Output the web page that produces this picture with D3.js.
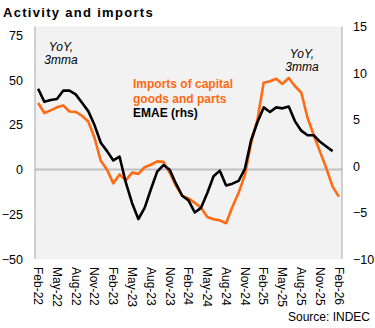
<!DOCTYPE html>
<meta charset="utf-8">
<script src="https://d3js.org/d3.v7.min.js"></script>
<style>
  body { margin: 0; background: #fff; }
  svg { display: block; font-family: "Liberation Sans", Arial, sans-serif; }
</style>
<div id="chart"></div>
<script>
// months Feb-22 .. Feb-26
var months = [];
var monNames = ["Jan","Feb","Mar","Apr","May","Jun","Jul","Aug","Sep","Oct","Nov","Dec"];
for (var k = 0; k < 49; k++) {
  var m = (1 + k) % 12, yr = 22 + Math.floor((1 + k) / 12);
  months.push(monNames[m] + "-" + yr);
}
var tickLabels = months.filter(function(d, i){ return i % 3 == 0 });

// imports of capital goods and parts, YoY 3mma (lhs)
var imports = [37.2, 31.6, 33.1, 34.8, 35.9, 32.5, 32.2, 30.1, 26.9, 17.8,
  4.9, -0.1, -7.7, -2.7, -6, -1.7, -2.4, 1.3, 2.7, 4.6,
  4.3, -1.8, -9.1, -14.7, -16.1, -18.6, -21.4, -26.5, -27.8, -28.4,
  -30, -20.9, -13, -3, 15, 27.9, 48.6, 49.4, 50.8, 47.9,
  51.2, 46.6, 43, 29, 19.2, 9.9, 0.7, -9.5, -15.1];

// EMAE, YoY 3mma (rhs)
var emae = [8.3, 6.9, 7.1, 7.2, 8.1, 8.1, 7.7, 6.8, 5.9, 4.4,
  2.5, 1.6, 0.6, 1.0, -1.8, -4, -5.7, -4.5, -2.5, -0.6,
  0.1, -0.4, -1.9, -3.2, -3.7, -5, -4.5, -2.9, -1.1, -0.5,
  -2.1, -1.9, -1.6, -0.3, 2.8, 4.7, 6.3, 5.8, 6.3, 6.2,
  6.4, 4.8, 3.8, 3.3, 3.3, 2.6, 2.1, 1.6, null];

var leftTicks = [-50, -25, 0, 25, 50, 75];
var rightTicks = [-10, -5, 0, 5, 10, 15];

var W = 375, H = 328;
var plot = {left: 35, right: 342, top: 26.5, bottom: 259};

var svg = d3.select("#chart").append("svg")
  .attr("width", W).attr("height", H);

var x = d3.scaleBand().domain(months).range([plot.left, plot.right]).padding(0);
var yL = d3.scaleLinear().domain([-50, 80]).range([plot.bottom, plot.top]);
var yR = d3.scaleLinear().domain([-10, 15]).range([plot.bottom, plot.top]);
var cx = function(d){ return x(d) + x.bandwidth() / 2 };

// title
svg.append("text")
  .attr("x", 3).attr("y", 17)
  .text("Activity and imports")
  .attr("font-size", "13px").attr("font-weight", "bold")
  .attr("letter-spacing", "1.3px")
  .attr("fill", "#000");

// plot background
svg.append("rect")
  .attr("x", plot.left).attr("y", plot.top)
  .attr("width", plot.right - plot.left).attr("height", plot.bottom - plot.top)
  .attr("fill", "#F2F2F2");

// zero line (lhs)
svg.append("line")
  .attr("x1", plot.left).attr("x2", plot.right)
  .attr("y1", yL(0)).attr("y2", yL(0))
  .attr("stroke", "#C0C0C0").attr("stroke-width", 2);

// axis lines
svg.append("line")
  .attr("x1", plot.left).attr("x2", plot.left)
  .attr("y1", plot.top).attr("y2", plot.bottom)
  .attr("stroke", "#A6A6A6").attr("stroke-width", 1);
svg.append("line")
  .attr("x1", plot.right).attr("x2", plot.right)
  .attr("y1", plot.top).attr("y2", plot.bottom)
  .attr("stroke", "#A6A6A6").attr("stroke-width", 1);

// left axis
var gl = svg.append("g")
  .attr("transform", "translate(" + plot.left + ",0)")
  .call(d3.axisLeft(yL).tickValues(leftTicks).tickSize(0).tickPadding(12));
gl.select(".domain").remove();
gl.selectAll("text").attr("font-size", "12.5px").attr("font-family", null).attr("fill", "#000");

// right axis
var gr = svg.append("g")
  .attr("transform", "translate(" + plot.right + ",0)")
  .call(d3.axisRight(yR).tickValues(rightTicks).tickSize(0).tickPadding(11));
gr.select(".domain").remove();
gr.selectAll("text").attr("font-size", "12.5px").attr("font-family", null).attr("fill", "#000");

// bottom axis, rotated labels
var gb = svg.append("g")
  .attr("transform", "translate(0," + plot.bottom + ")")
  .call(d3.axisBottom(x).tickValues(tickLabels).tickSize(0).tickPadding(0));
gb.select(".domain").remove();
gb.selectAll("text")
  .attr("font-size", "12px").attr("font-family", null).attr("fill", "#000")
  .attr("text-anchor", "start")
  .attr("dy", "0.35em")
  .attr("transform", "translate(0,8) rotate(90)")
  .attr("y", 0).attr("x", 0);

// lines
var lineL = d3.line()
  .defined(function(d){ return d != null })
  .x(function(d, i){ return cx(months[i]) })
  .y(function(d){ return yL(d) });
var lineR = d3.line()
  .defined(function(d){ return d != null })
  .x(function(d, i){ return cx(months[i]) })
  .y(function(d){ return yR(d) });

svg.append("path").datum(imports)
  .attr("d", lineL).attr("fill", "none")
  .attr("stroke", "#FF6A13").attr("stroke-width", 2.6)
  .attr("stroke-linejoin", "round");
svg.append("path").datum(emae)
  .attr("d", lineR).attr("fill", "none")
  .attr("stroke", "#000").attr("stroke-width", 2.6)
  .attr("stroke-linejoin", "round");

// annotations
function note(xc, y1, y2) {
  var t = svg.append("text").attr("text-anchor", "middle")
    .attr("font-size", "12px").attr("font-style", "italic").attr("fill", "#000");
  t.append("tspan").attr("x", xc).attr("y", y1).text("YoY,");
  t.append("tspan").attr("x", xc).attr("y", y2).text("3mma");
}
note(61, 50.5, 64);
note(302, 57.5, 71);

// legend text
var lg = svg.append("text").attr("font-size", "12px").attr("font-weight", "bold");
lg.append("tspan").attr("x", 133).attr("y", 88).attr("fill", "#FF6A13").text("Imports of capital");
lg.append("tspan").attr("x", 133).attr("y", 103).attr("fill", "#FF6A13").text("goods and parts");
lg.append("tspan").attr("x", 133).attr("y", 117).attr("fill", "#000").text("EMAE (rhs)");

// source
svg.append("text")
  .attr("x", 370).attr("y", 321)
  .attr("text-anchor", "end")
  .attr("font-size", "12px")
  .text("Source: INDEC");
</script>
